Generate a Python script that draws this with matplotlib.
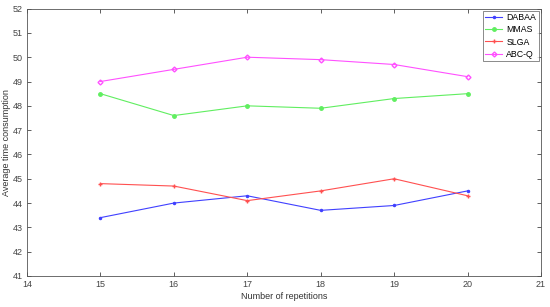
import matplotlib
matplotlib.use("Agg")
import matplotlib.pyplot as plt

reps = [15, 16, 17, 18, 19, 20]
dabaa = [43.4, 44.0, 44.3, 43.7, 43.9, 44.5]
mmas = [48.5, 47.6, 48.0, 47.9, 48.3, 48.5]
slga = [44.8, 44.7, 44.1, 44.5, 45.0, 44.3]
abcq = [49.0, 49.5, 50.0, 49.9, 49.7, 49.2]

plt.rcParams['font.family'] = ['Liberation Sans', 'DejaVu Sans']
fig = plt.figure(figsize=(5.5, 3.07), dpi=100)
ax = fig.add_axes([0.049, 0.101, 0.9346, 0.871])

lw = 0.8
ax.plot(reps, dabaa, color='#4040ff', marker='.', ms=3, lw=lw, label='DABAA')
ax.plot(reps, mmas, color='#60ee60', marker='o', ms=2.5, lw=lw, label='MMAS')
ax.plot(reps, slga, color='#ff5050', marker='+', ms=3.5, lw=lw, label='SLGA')
ax.plot(reps, abcq, color='#ff50ff', marker='D', ms=2.5, mfc='none', lw=lw, label='ABC-Q')

ax.set_xlim(14, 21)
ax.set_ylim(41, 52)
ax.set_xticks(range(14, 22))
ax.set_yticks(range(41, 53))
ax.tick_params(direction='in', labelsize=6.5, length=3, width=0.6, colors='#444444',
               top=True, right=True, pad=3)
for s in ax.spines.values():
    s.set_color('#555555')
    s.set_linewidth(0.6)
ax.set_xlabel('Number of repetitions', fontsize=6.5, color='#333333', labelpad=2)
ax.set_ylabel('Average time consumption', fontsize=6.5, color='#333333', labelpad=1)

leg = ax.legend(loc='upper right', fontsize=6.3, frameon=True, fancybox=False,
                borderpad=0.3, labelspacing=0.35, handlelength=1.9, handletextpad=0.5,
                borderaxespad=0.25)
leg.get_frame().set_edgecolor('#555555')
leg.get_frame().set_linewidth(0.6)

fig.savefig('out.png', dpi=100)
